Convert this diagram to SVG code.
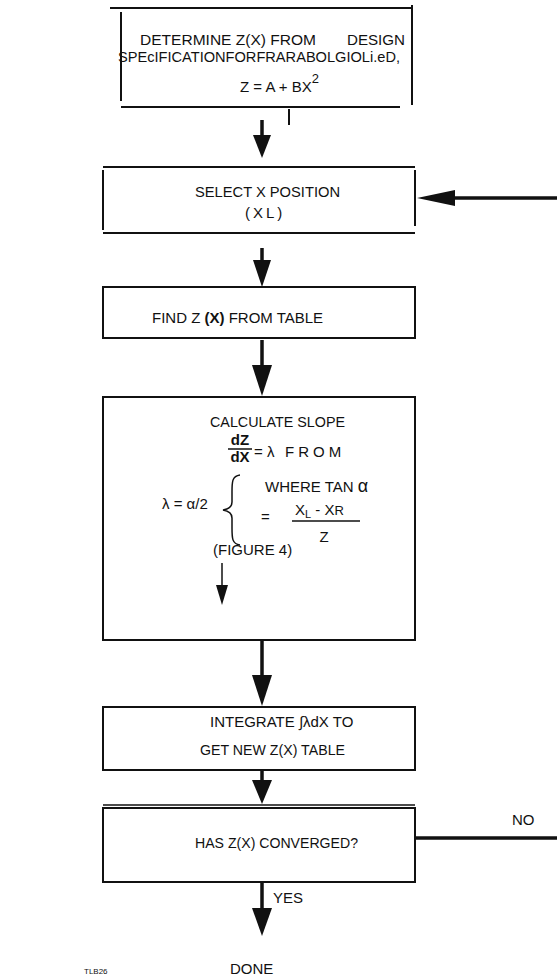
<svg xmlns="http://www.w3.org/2000/svg" width="557" height="979" viewBox="0 0 557 979">
<style>
text{font-family:"Liberation Sans",Arial,sans-serif;font-size:15px;fill:#111}
.box{fill:none;stroke:#111;stroke-width:2}
.ln{stroke:#111;stroke-width:2;fill:none}
.shaft{stroke:#111;stroke-width:3.5}
.thin{stroke:#111;stroke-width:1.5;fill:none}
.head{fill:#111}
.sm{font-size:8px}
</style>
<rect width="557" height="979" fill="#fff"/>
<g id="n1">
<path class="ln" d="M110 8H412M412 5V105M121 12V101M121 107H400"/>
<text x="140" y="45" textLength="176" lengthAdjust="spacingAndGlyphs">DETERMINE Z(X) FROM</text>
<text x="347" y="45" textLength="58" lengthAdjust="spacingAndGlyphs">DESIGN</text>
<text x="118" y="62" textLength="282" lengthAdjust="spacingAndGlyphs">SPEcIFICATIONFORFRARABOLGIOLi.eD,</text>
<text x="240" y="92">Z = A + BX<tspan dy="-9" font-size="13">2</tspan></text>
</g>
<g id="n2">
<path class="ln" d="M103 167H415M103 233H415M103 170V230M415 170V226"/>
<text x="195" y="197" textLength="145" lengthAdjust="spacingAndGlyphs">SELECT X POSITION</text>
<text x="245" y="218" letter-spacing="3">(XL)</text>
</g>
<g id="n3">
<rect class="box" x="103" y="287" width="312" height="51"/>
<text x="152" y="323" font-size="16.5">FIND Z <tspan font-weight="bold">(X)</tspan> FROM TABLE</text>
</g>
<g id="n4">
<rect class="box" x="103" y="397" width="312" height="243"/>
<text x="210" y="427" textLength="135" lengthAdjust="spacingAndGlyphs">CALCULATE SLOPE</text>
<text x="240" y="445" text-anchor="middle" font-weight="bold" font-size="14">dZ</text>
<line class="thin" x1="228" y1="449" x2="252" y2="449"/>
<text x="240" y="462" text-anchor="middle" font-weight="bold" font-size="14">dX</text>
<text x="254" y="457">= λ</text>
<text x="285" y="457" letter-spacing="4">FROM</text>
<text x="265" y="492">WHERE TAN <tspan font-size="18">α</tspan></text>
<text x="162" y="509">λ = α/2</text>
<path class="thin" d="M240 475C232 476 232 482 232 492V502C232 507 229 509 223 510C229 511 232 513 232 518V528C232 538 232 544 240 545"/>
<text x="261" y="522">=</text>
<text x="295" y="515">X<tspan font-size="11" dy="3">L</tspan><tspan dy="-3"> - X</tspan><tspan font-size="13">R</tspan></text>
<line class="thin" x1="292" y1="521" x2="360" y2="521"/>
<text x="324" y="542" text-anchor="middle">Z</text>
<text x="213" y="555">(FIGURE 4)</text>
<line class="thin" x1="222" y1="563" x2="222" y2="587"/>
<polygon class="head" points="216,585 228,585 222,605"/>
</g>
<g id="n5">
<rect class="box" x="103" y="707" width="312" height="63"/>
<text x="210" y="727">INTEGRATE ∫λdX TO</text>
<text x="200" y="755" textLength="145" lengthAdjust="spacingAndGlyphs">GET NEW Z(X) TABLE</text>
</g>
<g id="n6">
<rect class="box" x="103" y="808" width="312" height="74"/>
<line class="thin" x1="103" y1="805" x2="415" y2="805"/>
<text x="195" y="848" textLength="163" lengthAdjust="spacingAndGlyphs">HAS Z(X) CONVERGED?</text>
</g>
<g id="labels">
<text x="512" y="825">NO</text>
<text x="273" y="903">YES</text>
<text x="230" y="974">DONE</text>
<text class="sm" x="84" y="974">TLB26</text>
</g>
<g id="connectors">
<line class="ln" x1="289" y1="109" x2="289" y2="125" stroke-width="3"/>
<line class="shaft" x1="262" y1="120" x2="262" y2="137"/>
<polygon class="head" points="253,135 271,135 262,158"/>
<line class="shaft" x1="262" y1="248" x2="262" y2="262"/>
<polygon class="head" points="253,260 271,260 262,287"/>
<line class="shaft" x1="262" y1="340" x2="262" y2="367"/>
<polygon class="head" points="252,365 272,365 262,396"/>
<line class="shaft" x1="262" y1="641" x2="262" y2="677"/>
<polygon class="head" points="252,675 272,675 262,706"/>
<line class="shaft" x1="262" y1="771" x2="262" y2="782"/>
<polygon class="head" points="252,780 272,780 262,804"/>
<line class="shaft" x1="262" y1="883" x2="262" y2="910"/>
<polygon class="head" points="252,908 272,908 262,936"/>
<line class="shaft" x1="557" y1="198" x2="452" y2="198"/>
<polygon class="head" points="455,190 455,206 417,198"/>
<line class="shaft" x1="415" y1="838" x2="557" y2="838"/>
</g>
</svg>
